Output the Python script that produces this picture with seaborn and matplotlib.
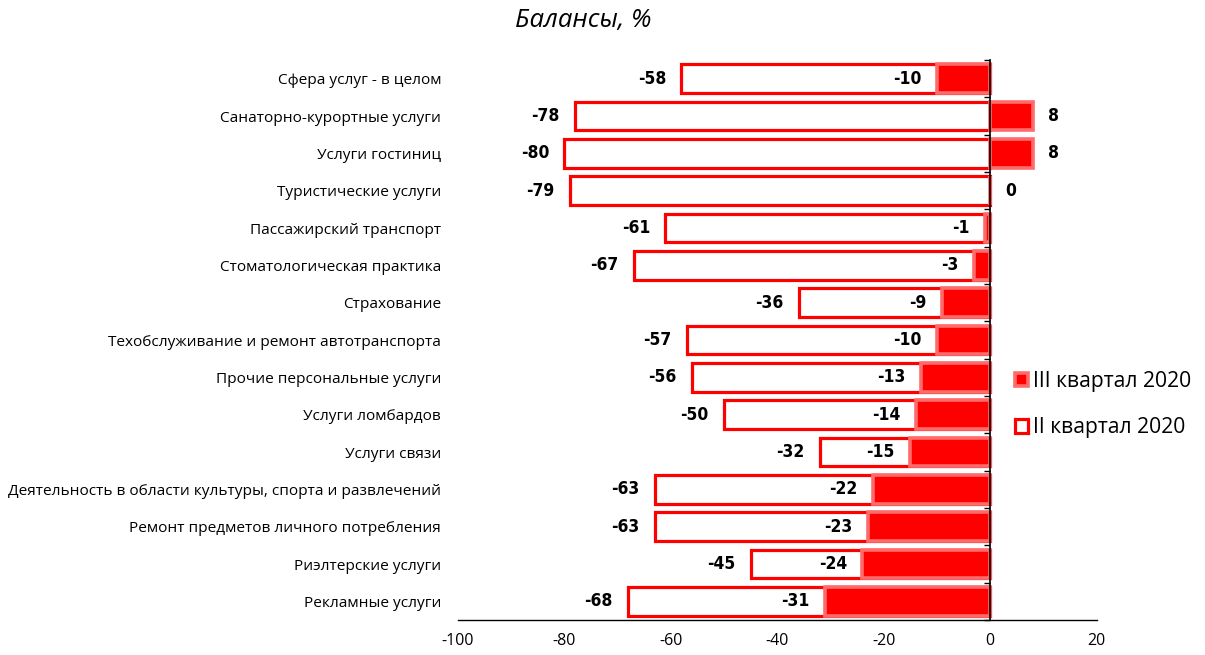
import numpy as np
import pandas as pd
import matplotlib
matplotlib.use("Agg")
import matplotlib.pyplot as plt
import matplotlib.patches as mpatches
from matplotlib import font_manager
import seaborn as sns

categories = [
    "Сфера услуг - в целом",
    "Санаторно-курортные услуги",
    "Услуги гостиниц",
    "Туристические услуги",
    "Пассажирский транспорт",
    "Стоматологическая практика",
    "Страхование",
    "Техобслуживание и ремонт автотранспорта",
    "Прочие персональные услуги",
    "Услуги ломбардов",
    "Услуги связи",
    "Деятельность в области культуры, спорта и развлечений",
    "Ремонт предметов личного потребления",
    "Риэлтерские услуги",
    "Рекламные услуги",
]
q2_2020 = [-58, -78, -80, -79, -61, -67, -36, -57, -56, -50, -32, -63, -63, -45, -68]
q3_2020 = [-10, 8, 8, 0, -1, -3, -9, -10, -13, -14, -15, -22, -23, -24, -31]
x_ticks = [-100, -80, -60, -40, -20, 0, 20]
label_q2 = "II квартал 2020"
label_q3 = "III квартал 2020"

df = pd.DataFrame({"cat": categories, "q2": q2_2020, "q3": q3_2020})

sns.set_style("white")
plt.rcParams["font.family"] = ["Open Sans", "DejaVu Sans"]
plt.rcParams["text.color"] = "black"
plt.rcParams["xtick.color"] = "black"
plt.rcParams["ytick.color"] = "black"
plt.rcParams["axes.labelcolor"] = "black"

RED = "#FF0000"
PINK = "#FF6B6B"

available = {f.name for f in font_manager.fontManager.ttflist}
if "Liberation Sans Narrow" in available:
    num_font = dict(family=["Liberation Sans Narrow", "DejaVu Sans"],
                    fontweight="bold", fontsize=14.5)
else:
    num_font = dict(family=["DejaVu Sans"], fontstretch="condensed",
                    fontweight="bold", fontsize=12.5)

fig = plt.figure(figsize=(12.05, 6.55), dpi=100)
ax = fig.add_axes([0.380, 0.0534, 0.530, 0.855])

sns.barplot(data=df, y="cat", x="q2", orient="h", order=categories,
            color="white", edgecolor=RED, linewidth=2.3, width=0.76,
            saturation=1, ax=ax)
sns.barplot(data=df, y="cat", x="q3", orient="h", order=categories,
            color=RED, edgecolor=PINK, linewidth=2.6, width=0.76,
            saturation=1, ax=ax)

ax.set_xlim(-100, 20)
ax.set_ylim(len(categories) - 0.5, -0.5)
ax.set_xticks(x_ticks)
ax.set_xticklabels([str(t) for t in x_ticks], fontsize=11.5)
ax.tick_params(axis="x", direction="out", length=5, width=1, color="black", pad=4)
ax.set_xlabel("")
ax.set_ylabel("")

ax.set_yticks(range(len(categories)))
ax.set_yticklabels(categories, fontsize=11.1)
ax.tick_params(axis="y", length=0, pad=12)

for s in ["top", "right", "left"]:
    ax.spines[s].set_visible(False)
ax.spines["bottom"].set_color("black")
ax.spines["bottom"].set_linewidth(1)

# zero line with category separator ticks pointing left
zero_axis = ax.secondary_yaxis(100 / 120)
zero_axis.set_yticks(np.arange(-0.5, len(categories) + 0.5, 1))
zero_axis.set_yticklabels([])
zero_axis.tick_params(direction="in", length=4, width=1, color="black")
for sp in zero_axis.spines.values():
    sp.set_color("black")
    sp.set_linewidth(1.2)
zero_axis.set_zorder(5)

# value labels
for i, (a, b) in enumerate(zip(q2_2020, q3_2020)):
    ax.annotate(str(a), (a, i), xytext=(-11, 0), textcoords="offset points",
                ha="right", va="center", **num_font)
    if b >= 0:
        ax.annotate(str(b), (b, i), xytext=(11, 0), textcoords="offset points",
                    ha="left", va="center", **num_font)
    else:
        ax.annotate(str(b), (b, i), xytext=(-11, 0), textcoords="offset points",
                    ha="right", va="center", **num_font)

handles = [
    mpatches.Patch(facecolor=RED, edgecolor=PINK, linewidth=2.6, label=label_q3),
    mpatches.Patch(facecolor="white", edgecolor=RED, linewidth=2.3, label=label_q2),
]
fig.legend(handles=handles, loc="center left", bbox_to_anchor=(0.8355, 0.382),
           frameon=False, fontsize=15.2, handlelength=0.6, handleheight=0.6,
           handletextpad=0.25, labelspacing=1.2, borderaxespad=0)

fig.text(0.484, 0.968, "Балансы, %", ha="center", va="center",
         fontsize=18.5, fontstyle="italic")

fig.savefig("out.png", dpi=100)
